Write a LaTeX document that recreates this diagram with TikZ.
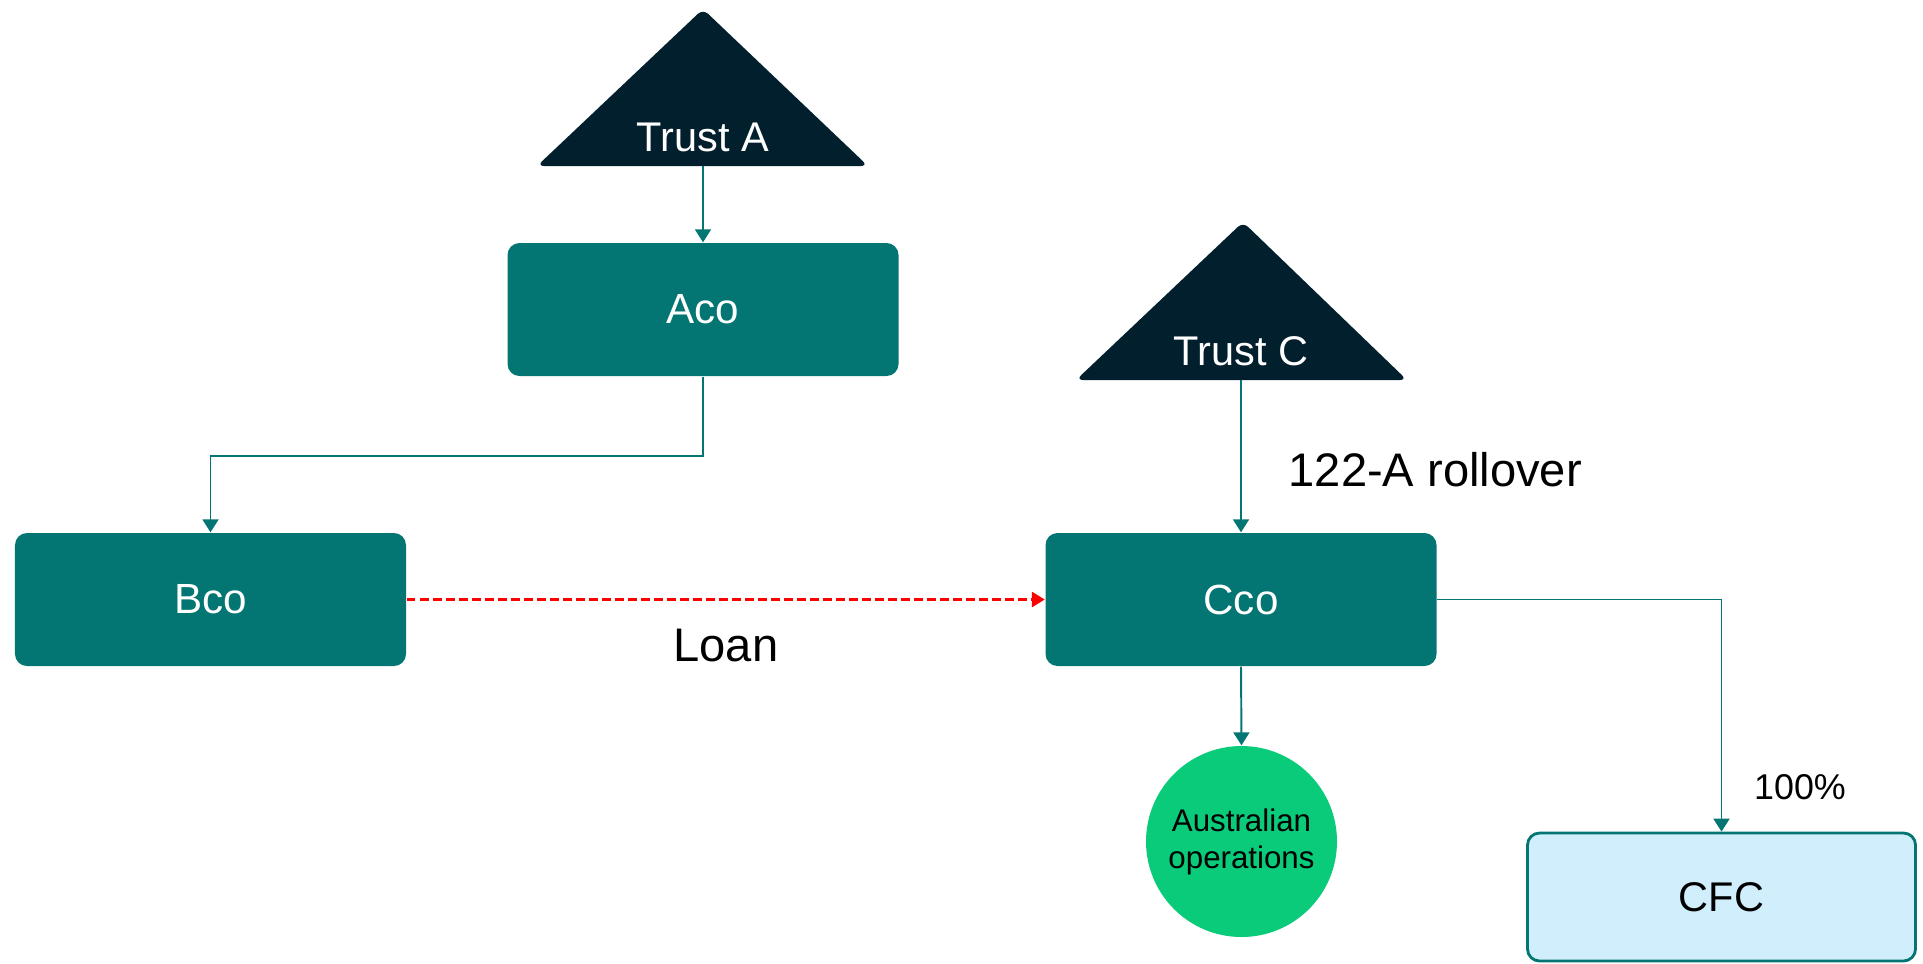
\documentclass[tikz,border=0pt]{standalone}
\usepackage{fontspec}
\setmainfont{Liberation Sans}
\usepackage{xcolor}
\usetikzlibrary{arrows.meta, positioning, shapes}

\definecolor{boxteal}{RGB}{3,118,115}
\definecolor{trustnavy}{RGB}{2,31,46}
\definecolor{opsgreen}{RGB}{10,203,122}
\definecolor{cfcblue}{RGB}{208,238,252}

\begin{document}
\begin{tikzpicture}[
    box/.style={rectangle, fill=boxteal, text=white, rounded corners=0.12cm, minimum width=3.91cm, minimum height=1.33cm, font=\fontsize{12}{14}\selectfont},
    boxc/.style={rectangle, draw=boxteal, line width=0.8pt, fill=cfcblue, rounded corners=0.12cm, minimum width=3.88cm, minimum height=1.28cm, font=\fontsize{11.8}{14}\selectfont},
    trust/.style={fill=trustnavy, rounded corners=2pt},
    trustlabel/.style={text=white, inner sep=0pt, font=\fontsize{11.8}{14}\selectfont},
    ops/.style={circle, fill=opsgreen, minimum size=1.91cm, inner sep=0pt, align=center, font=\fontsize{8.9}{10.5}\selectfont},
    lbl/.style={inner sep=0pt, font=\fontsize{13.4}{16}\selectfont},
    arrow/.style={-{Triangle[length=1.3mm, width=1.6mm]}, boxteal, line width=0.55pt},
    loan/.style={-{Triangle[length=1.3mm, width=1.5mm]}, red, line width=0.85pt, dash pattern=on 2.5pt off 1.2pt}
  ]
    \useasboundingbox (0,0) rectangle (19.23,-9.63);

    % trusts
    \fill[trust] (5.37,-1.66) -- (7.03,-0.09) -- (8.68,-1.66) -- cycle;
    \node[trustlabel] (trusta) at (7.03,-1.375) {Trust A};
    \coordinate (trustabase) at (7.03,-1.66);
    \fill[trust] (10.76,-3.80) -- (12.43,-2.22) -- (14.07,-3.80) -- cycle;
    \node[trustlabel] (trustc) at (12.41,-3.51) {Trust C};
    \coordinate (trustcbase) at (12.41,-3.80);

    % companies
    \node[box] (aco) at (7.03,-3.095) {Aco};
    \node[box] (bco) at (2.105,-5.995) {Bco};
    \node[box] (cco) at (12.41,-5.995) {Cco};
    \node[ops] (ops) at (12.415,-8.415) {Australian\\operations};
    \node[boxc] (cfc) at (17.215,-8.97) {CFC};

    % labels
    \node[lbl, anchor=west] (rollover) at (12.88,-4.70) {122-A rollover};
    \node[lbl] (loanlbl) at (7.26,-6.455) {Loan};
    \node[inner sep=0pt, font=\fontsize{10.2}{12}\selectfont] (pct) at (18.00,-7.875) {100\%};

    \draw[arrow] (trustabase) -- (aco.north);
    \draw[arrow] (aco.south) -- ++(0,-0.79) -| (bco.north);
    \draw[arrow] (trustcbase) -- (cco.north);
    \draw[loan] (bco.east) -- (cco.west);
    \draw[arrow] (cco.south) -- (ops.north);
    \draw[arrow] (cco.east) -| (cfc.north);
  \end{tikzpicture}
\end{document}
